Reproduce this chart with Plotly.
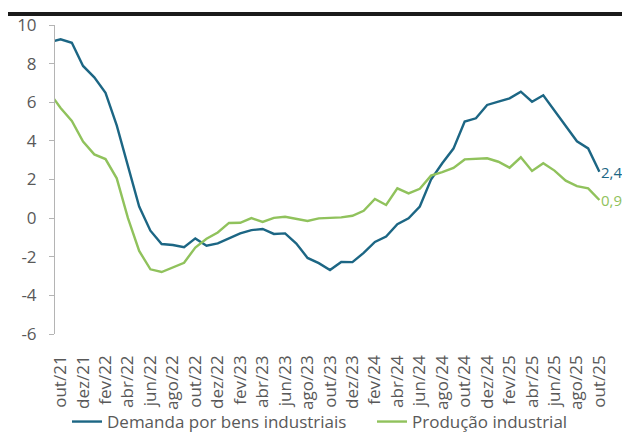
import plotly.graph_objects as go

# Months (set/21 sits just left of the plot area and is clipped, as in the reference)
months = ["set/21", "out/21", "nov/21", "dez/21", "jan/22", "fev/22", "mar/22", "abr/22", "mai/22",
          "jun/22", "jul/22", "ago/22", "set/22", "out/22", "nov/22", "dez/22", "jan/23", "fev/23",
          "mar/23", "abr/23", "mai/23", "jun/23", "jul/23", "ago/23", "set/23", "out/23", "nov/23",
          "dez/23", "jan/24", "fev/24", "mar/24", "abr/24", "mai/24", "jun/24", "jul/24", "ago/24",
          "set/24", "out/24", "nov/24", "dez/24", "jan/25", "fev/25", "mar/25", "abr/25", "mai/25",
          "jun/25", "jul/25", "ago/25", "set/25", "out/25"]

demanda = [9.10, 9.26, 9.08, 7.88, 7.29, 6.49, 4.80, 2.70, 0.60, -0.65, -1.34, -1.39, -1.51,
           -1.05, -1.43, -1.31, -1.07, -0.79, -0.62, -0.56, -0.82, -0.79, -1.32, -2.06, -2.33,
           -2.69, -2.27, -2.28, -1.80, -1.23, -0.95, -0.31, -0.01, 0.60, 2.00, 2.84, 3.60,
           5.00, 5.17, 5.86, 6.03, 6.20, 6.55, 6.03, 6.36, 5.55, 4.75, 3.98, 3.61, 2.40]

producao = [6.50, 5.70, 5.03, 3.96, 3.30, 3.06, 2.06, 0.00, -1.70, -2.65, -2.79, -2.55, -2.31,
            -1.52, -1.07, -0.74, -0.25, -0.24, 0.00, -0.20, 0.01, 0.07, -0.05, -0.15, -0.01,
            0.00, 0.04, 0.12, 0.38, 0.99, 0.68, 1.54, 1.28, 1.52, 2.20, 2.38, 2.60, 3.04,
            3.06, 3.10, 2.92, 2.61, 3.15, 2.44, 2.84, 2.46, 1.94, 1.66, 1.54, 0.94]

series_names = ["Demanda por bens industriais", "Produção industrial"]
y_ticks = [-6, -4, -2, 0, 2, 4, 6, 8, 10]

BLUE = "#1C6684"
GREEN = "#90C25C"
TEXT = "#595959"
AXIS = "#B4B4B4"
FONT = "Open Sans"

x_idx = list(range(-1, len(months) - 1))
label_vals = x_idx[1::2]
label_text = months[1::2]
boundary_ticks = [v - 0.5 for v in label_vals]

fig = go.Figure()
fig.add_trace(go.Scatter(x=x_idx, y=demanda, mode="lines", name=series_names[0],
                         line=dict(color=BLUE, width=2.4), legend="legend"))
fig.add_trace(go.Scatter(x=x_idx, y=producao, mode="lines", name=series_names[1],
                         line=dict(color=GREEN, width=2.4), legend="legend2"))

def fmt(v):
    return f"{v:.1f}".replace(".", ",")

for vals, col in ((demanda, BLUE), (producao, GREEN)):
    fig.add_annotation(x=x_idx[-1], y=vals[-1], xref="x", yref="y", text=fmt(vals[-1]),
                       showarrow=False, xanchor="left", xshift=1, borderpad=0,
                       font=dict(family=FONT, size=15, color=col))

xr = [-0.5, x_idx[-1] + 0.5]
yr = [y_ticks[0], y_ticks[-1]]
zero_pos = (0 - yr[0]) / (yr[1] - yr[0])

# the page adds an 8px body margin, so the figure is sized to fit the 630x441 window
W, H = 622, 433
ML, MR, MT, MB = 47, 25, 17, 107
PW, PH = W - ML - MR, H - MT - MB

legend_common = dict(orientation="h", xanchor="left", yanchor="middle",
                     y=-(414 - (H - MB)) / PH,
                     font=dict(family=FONT, size=17, color=TEXT), itemwidth=30,
                     bgcolor="rgba(0,0,0,0)")

fig.update_layout(
    width=W, height=H,
    margin=dict(l=ML, r=MR, t=MT, b=MB, autoexpand=False),
    paper_bgcolor="white", plot_bgcolor="white",
    font=dict(family=FONT, size=16, color=TEXT),
    showlegend=True,
    legend=dict(x=(59 - ML) / PW, **legend_common),
    legend2=dict(x=(364 - ML) / PW, **legend_common),
    xaxis=dict(range=xr, tickmode="array", tickvals=label_vals, ticktext=label_text,
               tickangle=-90, ticks="", showline=False, showgrid=False, zeroline=False,
               automargin=False, ticklabelstandoff=17,
               tickfont=dict(family=FONT, size=17, color=TEXT)),
    xaxis2=dict(range=xr, overlaying="x", anchor="free", position=zero_pos, side="bottom",
                tickmode="array", tickvals=boundary_ticks, ticks="outside", ticklen=5,
                tickcolor=AXIS, showticklabels=False, showline=True, linecolor=AXIS,
                linewidth=1, showgrid=False, zeroline=False, automargin=False),
    yaxis=dict(range=yr, tickmode="array", tickvals=y_ticks,
               ticktext=[str(v) for v in y_ticks], ticks="outside", ticklen=5,
               tickcolor=AXIS, showline=True, linecolor=AXIS, linewidth=1,
               showgrid=False, zeroline=False, automargin=False, ticklabelstandoff=9,
               tickfont=dict(family=FONT, size=17, color=TEXT)),
)

# black rule near the top edge of the figure (figure pixel row ~6)
rule_y = (H - MB - 6) / PH
fig.add_shape(type="line", xref="paper", yref="paper", layer="above",
              x0=-ML / PW, x1=(W - ML) / PW, y0=rule_y, y1=rule_y,
              line=dict(width=4, color="#1A1A1A"))

fig.write_html("out.html")
